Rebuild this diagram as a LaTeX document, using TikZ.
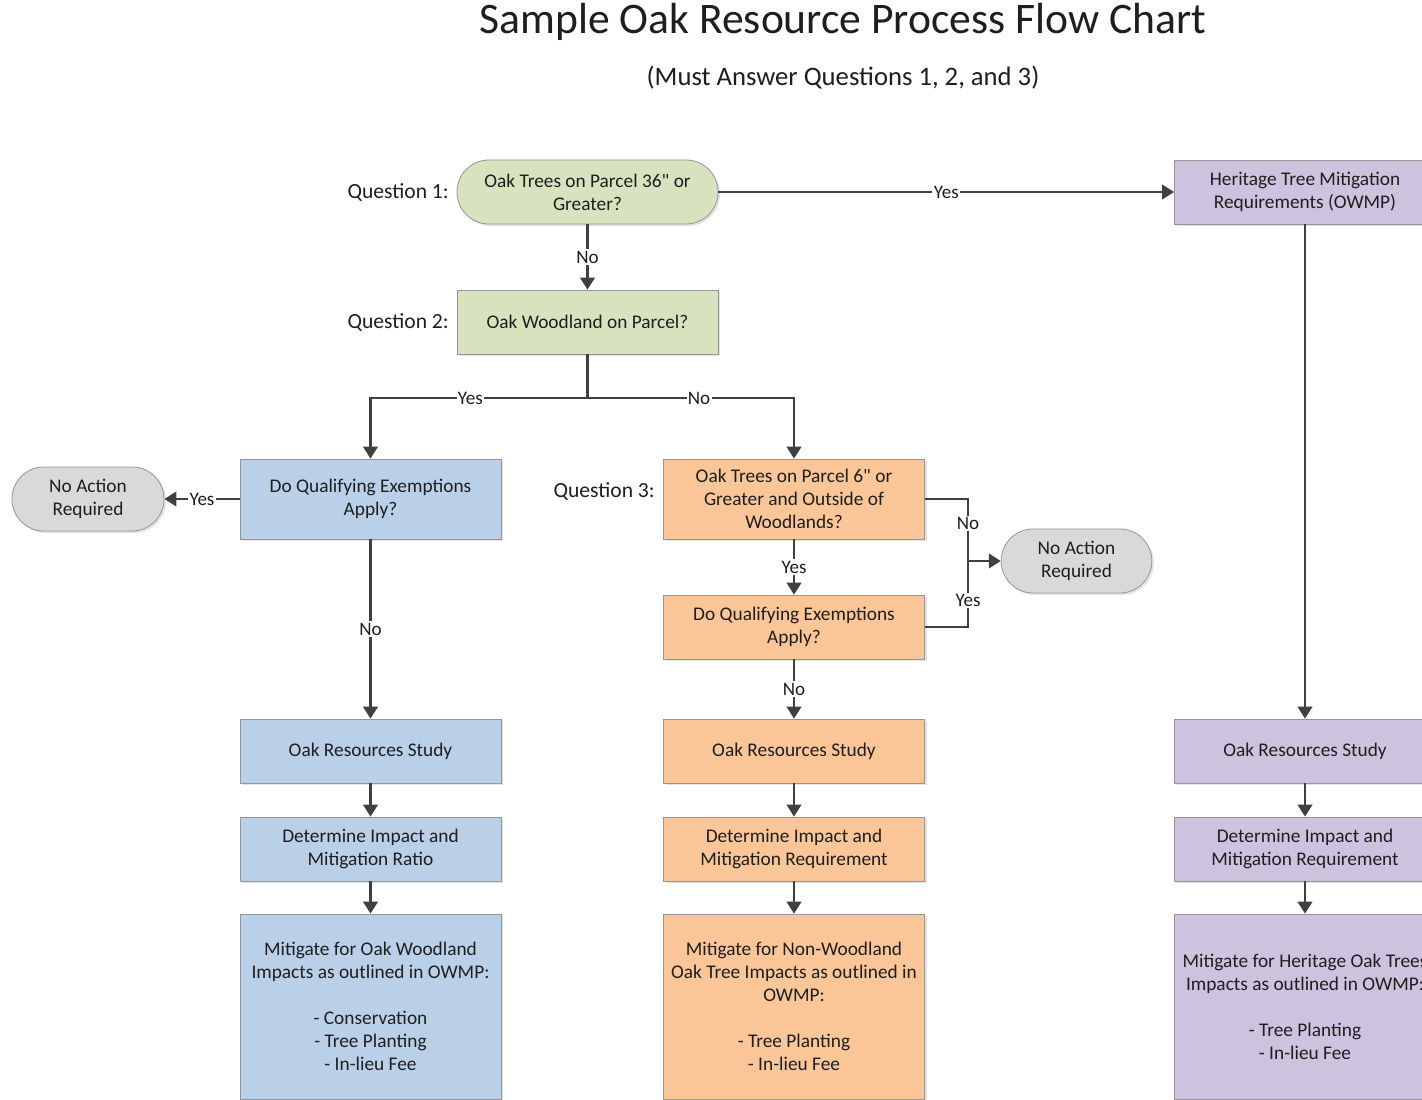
\documentclass[tikz,border=0pt]{standalone}
\usepackage{fontspec}
\setmainfont{Carlito}[Ligatures=TeXOff]
\usetikzlibrary{arrows.meta,shadows}
\definecolor{txt}{RGB}{30,30,30}
\definecolor{linec}{RGB}{64,64,64}
\definecolor{bord}{RGB}{150,150,150}
\definecolor{grn}{RGB}{215,227,190}
\definecolor{blu}{RGB}{185,208,232}
\definecolor{org}{RGB}{250,198,152}
\definecolor{pur}{RGB}{205,195,222}
\definecolor{gry}{RGB}{217,217,217}
\tikzset{
  base/.style={draw=bord, line width=0.6pt, align=center, text=txt,
    font=\fontsize{14.5}{17.25}\selectfont, inner sep=2pt,
    drop shadow={opacity=0.22, shadow xshift=1.5pt, shadow yshift=-1.5pt}},
  box/.style={base, minimum width=195.75pt, minimum height=48pt},
  tallbox/.style={base, minimum width=195.75pt, minimum height=60pt},
  mitbox/.style={base, minimum width=195.75pt, minimum height=138.75pt},
  pill/.style={base, rounded corners=23.9pt, minimum height=48pt},
  arr/.style={draw=linec, line width=1.6pt, -{Triangle[length=9pt,width=11pt]}},
  ln/.style={draw=linec, line width=1.6pt},
  lbl/.style={fill=white, text=txt, inner sep=1pt, font=\fontsize{14.3}{16}\selectfont},
  qlbl/.style={text=txt, anchor=east, font=\fontsize{16.2}{19}\selectfont, inner sep=0pt}
}
\begin{document}
\begin{tikzpicture}[x=0.75pt,y=-0.75pt]
\useasboundingbox (0,0) rectangle (1422,1100);
\clip (0,0) rectangle (1422,1100);
\fill[white] (0,0) rectangle (1422,1100);

\node[text=txt, font=\fontsize{32.7}{36}\selectfont] (title) at (843,22) {Sample Oak Resource Process Flow Chart};
\node[text=txt, font=\fontsize{20}{24}\selectfont] (sub) at (843,78) {(Must Answer Questions 1, 2, and 3)};

% Question labels
\node[qlbl] (ql1) at (449,192) {Question 1:};
\node[qlbl] (ql2) at (449,322) {Question 2:};
\node[qlbl] (ql3) at (655,491) {Question 3:};

% top
\node[pill, fill=grn, minimum width=195.75pt] (q1) at (587.5,192) {Oak Trees on Parcel 36" or\\Greater?};
\node[box, fill=grn] (q2) at (587.5,322) {Oak Woodland on Parcel?};
\node[box, fill=pur] (her) at (1305,192) {Heritage Tree Mitigation\\Requirements (OWMP)};

% blue column
\node[tallbox, fill=blu] (ex1) at (370.5,499) {Do Qualifying Exemptions\\Apply?};
\node[pill, fill=gry, minimum width=114pt] (na1) at (88,499) {No Action\\Required};
\node[box, fill=blu] (ors1) at (370.5,751) {Oak Resources Study};
\node[box, fill=blu] (det1) at (370.5,849) {Determine Impact and\\Mitigation Ratio};
\node[mitbox, fill=blu] (mit1) at (370.5,1006.5) {Mitigate for Oak Woodland\\Impacts as outlined in OWMP:\\[17.25pt]- Conservation\\- Tree Planting\\- In-lieu Fee};

% orange column
\node[tallbox, fill=org] (q3) at (794,499) {Oak Trees on Parcel 6" or\\Greater and Outside of\\Woodlands?};
\node[box, fill=org] (ex2) at (794,627) {Do Qualifying Exemptions\\Apply?};
\node[pill, fill=gry, minimum width=113pt] (na2) at (1076.5,561) {No Action\\Required};
\node[box, fill=org] (ors2) at (794,751) {Oak Resources Study};
\node[box, fill=org] (det2) at (794,849) {Determine Impact and\\Mitigation Requirement};
\node[mitbox, fill=org] (mit2) at (794,1006.5) {Mitigate for Non-Woodland\\Oak Tree Impacts as outlined in\\OWMP:\\[17.25pt]- Tree Planting\\- In-lieu Fee};

% purple column
\node[box, fill=pur] (ors3) at (1305,751) {Oak Resources Study};
\node[box, fill=pur] (det3) at (1305,849) {Determine Impact and\\Mitigation Requirement};
\node[mitbox, fill=pur] (mit3) at (1305,1006.5) {Mitigate for Heritage Oak Trees\\Impacts as outlined in OWMP:\\[17.25pt]- Tree Planting\\- In-lieu Fee};

% connectors
\draw[arr] (q1.east) -- node[lbl]{Yes} (her.west);
\draw[arr] (q1.south) -- node[lbl]{No} (q2.north);
\coordinate (split) at (587.5,398);
\draw[ln] (q2.south) -- (split);
\draw[arr] (split) -| node[lbl, pos=0.27]{Yes} (ex1.north);
\draw[arr] (split) -| node[lbl, pos=0.27]{No} (q3.north);
\draw[arr] (ex1.west) -- node[lbl]{Yes} (na1.east);
\draw[arr] (ex1.south) -- node[lbl]{No} (ors1.north);
\draw[arr] (q3.south) -- node[lbl]{Yes} (ex2.north);
\coordinate (jn) at (968,561);
\draw[ln] (q3.east) -| node[lbl, pos=0.7]{No} (jn);
\draw[ln] (ex2.east) -| node[lbl, pos=0.7]{Yes} (jn);
\draw[arr] (jn) -- (na2.west);
\draw[arr] (ex2.south) -- node[lbl]{No} (ors2.north);
\draw[arr] (her.south) -- (ors3.north);
\draw[arr] (ors1) -- (det1);
\draw[arr] (det1) -- (mit1);
\draw[arr] (ors2) -- (det2);
\draw[arr] (det2) -- (mit2);
\draw[arr] (ors3) -- (det3);
\draw[arr] (det3) -- (mit3);
\end{tikzpicture}
\end{document}
